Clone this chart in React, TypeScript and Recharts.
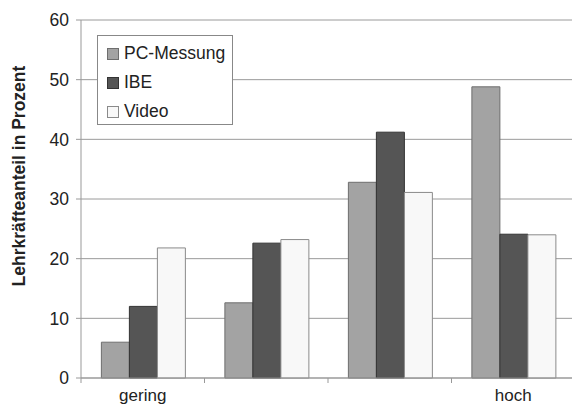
import { BarChart, Bar, XAxis, YAxis, CartesianGrid } from 'recharts';

const categories = ['gering', '2', '3', 'hoch'];
const categoryLabels = ['gering', '', '', 'hoch'];
const pcMessung = [6, 12.6, 32.8, 48.8];
const ibe = [12, 22.6, 41.2, 24.1];
const video = [21.8, 23.2, 31.1, 24];
const yTicks = [0, 10, 20, 30, 40, 50, 60];

const SERIES = [
  { key: 'pc', name: 'PC-Messung', fill: '#a3a3a3', stroke: '#6e6e6e' },
  { key: 'ibe', name: 'IBE', fill: '#555555', stroke: '#333333' },
  { key: 'video', name: 'Video', fill: '#f8f8f8', stroke: '#8a8a8a' },
];

const data = categories.map((c, i) => ({
  cat: c,
  pc: pcMessung[i],
  ibe: ibe[i],
  video: video[i],
}));

const FONT = '"Liberation Sans", Arial, sans-serif';
const CHART_W = 575;
const PLOT_LEFT = 81;
const BAND = (CHART_W - PLOT_LEFT) / categories.length;

function XTick(props: any) {
  const { x, y, index } = props;
  const last = index === categories.length - 1;
  return (
    <g>
      <line x1={x - BAND / 2} x2={x - BAND / 2} y1={y - 8} y2={y - 3} stroke="#999" />
      {last && <line x1={x + BAND / 2} x2={x + BAND / 2} y1={y - 8} y2={y - 3} stroke="#999" />}
      <text x={x} y={401} textAnchor="middle" fontSize={17} fill="#222" fontFamily={FONT}>
        {categoryLabels[index]}
      </text>
    </g>
  );
}

function LegendBox() {
  return (
    <div
      style={{
        position: 'absolute',
        left: 97,
        top: 35,
        width: 136,
        height: 90,
        border: '1px solid #888',
        background: '#fff',
        fontFamily: FONT,
        fontSize: 17.5,
        color: '#222',
        boxSizing: 'border-box',
        paddingTop: 3,
      }}
    >
      {SERIES.map((s) => (
        <div key={s.key} style={{ display: 'flex', alignItems: 'center', height: 29, paddingLeft: 9 }}>
          <span
            style={{
              width: 10,
              height: 10,
              background: s.fill,
              border: `1px solid ${s.stroke}`,
              marginRight: 5,
              display: 'inline-block',
            }}
          />
          <span>{s.name}</span>
        </div>
      ))}
    </div>
  );
}

export default function App() {
  return (
    <div style={{ position: 'absolute', left: 0, top: 0, width: 572, height: 412, overflow: 'hidden', background: '#fff' }}>
      <div style={{ position: 'relative', width: CHART_W, height: 412 }}>
        <BarChart
          width={CHART_W}
          height={412}
          data={data}
          margin={{ top: 20, right: 0, left: 0, bottom: 4 }}
          barCategoryGap="16.5%"
          barGap={0}
        >
          <CartesianGrid vertical={false} stroke="#9a9a9a" />
          <XAxis
            dataKey="cat"
            height={30}
            axisLine={{ stroke: '#999' }}
            tickLine={false}
            tick={<XTick />}
            interval={0}
          />
          <YAxis
            width={PLOT_LEFT}
            domain={[0, 60]}
            ticks={yTicks}
            axisLine={{ stroke: '#999' }}
            tickLine={{ stroke: '#999' }}
            tickSize={5}
            tickMargin={7}
            tick={{ fontSize: 17.5, fill: '#222', fontFamily: FONT }}
            label={{
              value: 'Lehrkräfteanteil in Prozent',
              angle: -90,
              position: 'insideLeft',
              dx: 14,
              dy: -23,
              style: { textAnchor: 'middle', fontSize: 17.5, fontWeight: 700, fill: '#222', fontFamily: FONT },
            }}
          />
          {SERIES.map((s) => (
            <Bar
              key={s.key}
              dataKey={s.key}
              name={s.name}
              fill={s.fill}
              stroke={s.stroke}
              strokeWidth={1}
              isAnimationActive={false}
            />
          ))}
        </BarChart>
        <LegendBox />
      </div>
    </div>
  );
}
